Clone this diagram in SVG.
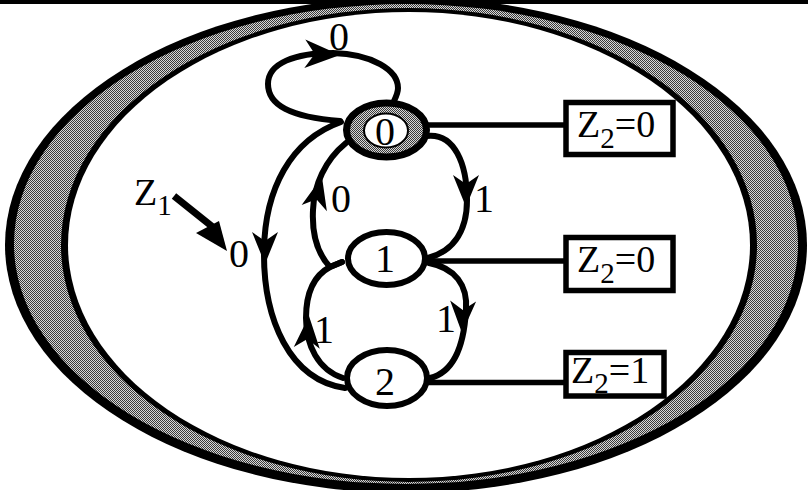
<svg xmlns="http://www.w3.org/2000/svg" xmlns:xlink="http://www.w3.org/1999/xlink" width="808" height="490" viewBox="0 0 808 490">
<style>
text{font-family:"Liberation Serif","Times New Roman",serif;fill:#000}
.lbl{font-size:40px;text-anchor:middle}
.zt{font-size:38px}
.sub{font-size:29px}
.edge{fill:none;stroke:#000;stroke-width:6;stroke-linecap:round}
.tie{fill:none;stroke:#000;stroke-width:5.5}
.st{fill:#fff;stroke:#000;stroke-width:6}
.box{fill:#fff;stroke:#000;stroke-width:5.5}
</style>
<defs>
<pattern id="dots" width="2" height="2" patternUnits="userSpaceOnUse">
<rect width="2" height="2" fill="#d8d8d8"/>
<rect width="1" height="1" fill="#3a3a3a"/>
<rect x="1" y="1" width="1" height="1" fill="#3a3a3a"/>
</pattern>
<path id="ah" d="M0 0 L-32 -13 L-23 0 L-32 13 Z" fill="#000"/>
</defs>
<rect width="808" height="490" fill="#fff"/>
<g id="frame">
<ellipse cx="406" cy="245" rx="401" ry="248" fill="#000"/>
<ellipse cx="406" cy="244" rx="392" ry="240" fill="url(#dots)"/>
<ellipse cx="409" cy="245" rx="348" ry="237" fill="#000"/>
<ellipse cx="409" cy="245" rx="341" ry="233" fill="#fff"/>
<rect x="0" y="0" width="808" height="4" fill="#000"/>
</g>
<g id="connectors">
<path class="edge" d="M340 121 C290 117 268 105 268 84 C268 63 295 53 333 53 C372 54 398 70 398 88 C398 93 396 97 394 101"/>
<use xlink:href="#ah" transform="translate(340 55) rotate(2) scale(1.1)"/>
<path class="edge" d="M426 136 C455 132 467 165 467 200 C467 235 450 252 428 258"/>
<use xlink:href="#ah" transform="translate(466 207) rotate(90)"/>
<path class="edge" d="M342 262 L330 267 C316 252 312 230 313 210 C314 185 325 160 346 143"/>
<use xlink:href="#ah" transform="translate(322 177) rotate(-76)"/>
<path class="edge" d="M341 122 C290 140 265 190 264 250 C263 320 290 380 345 388"/>
<use xlink:href="#ah" transform="translate(265 264) rotate(90)"/>
<path class="edge" d="M429 263 C455 268 468 285 466 310 C464 345 455 372 430 378"/>
<use xlink:href="#ah" transform="translate(462 333) rotate(92)"/>
<path class="edge" d="M343 378 C318 370 306 345 306 318 C306 292 315 275 330 267 L342 262"/>
<use xlink:href="#ah" transform="translate(309 316) rotate(-86)"/>
<line class="tie" x1="428" y1="125" x2="566" y2="125"/>
<line class="tie" x1="425" y1="261" x2="566" y2="261"/>
<line class="tie" x1="427" y1="382.5" x2="566" y2="382.5"/>
<line x1="174" y1="196" x2="214" y2="228" stroke="#000" stroke-width="7"/>
<polygon points="196,233 219,221 227,251" fill="#000"/>
</g>
<g id="state0">
<ellipse cx="386.5" cy="130" rx="40" ry="27" fill="url(#dots)" stroke="#000" stroke-width="7"/>
<ellipse cx="386" cy="130.5" rx="22" ry="17" fill="#fff" stroke="#000" stroke-width="2"/>
<text class="lbl" x="385" y="145">0</text>
</g>
<g id="state1">
<ellipse class="st" cx="386.5" cy="258.5" rx="38.5" ry="26.5"/>
<text class="lbl" x="385" y="272">1</text>
</g>
<g id="state2">
<ellipse class="st" cx="387" cy="378" rx="40" ry="28"/>
<text class="lbl" x="385" y="395">2</text>
</g>
<g id="out0">
<rect class="box" x="566" y="102.5" width="107" height="52"/>
<text class="zt" x="577" y="137">Z<tspan class="sub" dy="11">2</tspan><tspan dy="-11">=0</tspan></text>
</g>
<g id="out1">
<rect class="box" x="566" y="237.5" width="107" height="53"/>
<text class="zt" x="577" y="272">Z<tspan class="sub" dy="11">2</tspan><tspan dy="-11">=0</tspan></text>
</g>
<g id="out2">
<rect class="box" x="566" y="352.5" width="98" height="43.5"/>
<text class="zt" x="571" y="383">Z<tspan class="sub" dy="10">2</tspan><tspan dy="-10">=1</tspan></text>
</g>
<g id="labels">
<text class="lbl" x="339" y="50">0</text>
<text class="lbl" x="484" y="212">1</text>
<text class="lbl" x="341" y="212">0</text>
<text class="lbl" x="239" y="267">0</text>
<text class="lbl" x="446" y="332">1</text>
<text class="lbl" x="324" y="343">1</text>
<text class="zt" x="134" y="205">Z<tspan class="sub" dy="10">1</tspan></text>
</g>
</svg>
